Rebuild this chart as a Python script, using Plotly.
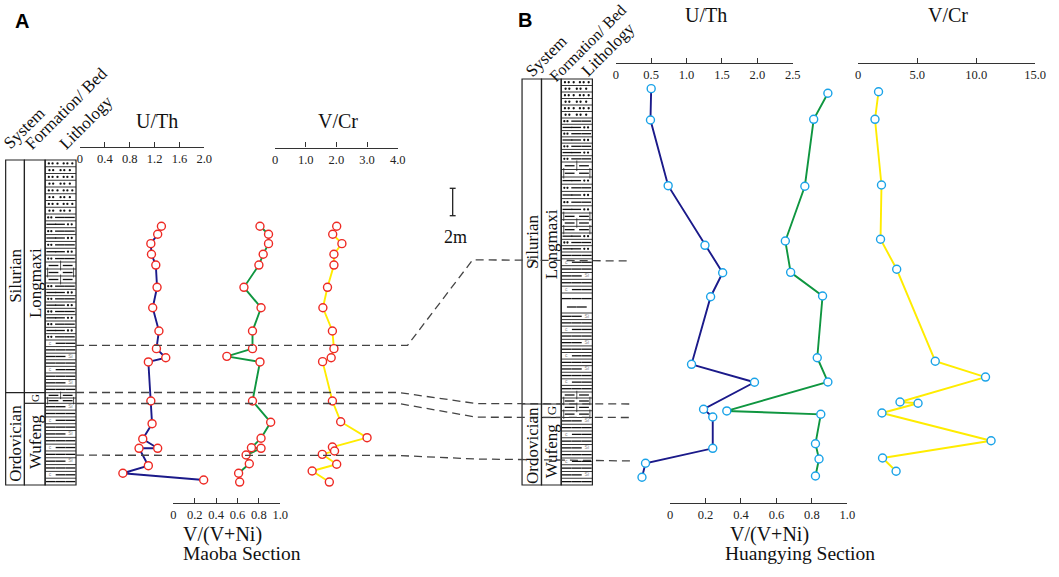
import plotly.graph_objects as go

W, H = 1059, 577

# ---------------- data (heights in m above the base of each column) ----------------
maoba_uth_h = [18.48, 17.91, 17.24, 16.48, 15.71, 14.12, 12.66, 11.00, 9.74, 9.09, 8.79, 6.00, 4.38, 3.29, 2.62, 2.62, 1.38, 0.84, 0.36]
maoba_uth = [1.31, 1.25, 1.14, 1.15, 1.22, 1.24, 1.17, 1.27, 1.23, 1.38, 1.10, 1.14, 1.16, 1.01, 1.25, 0.95, 1.10, 0.69, 1.99]

maoba_vvni_h = [18.48, 17.91, 17.24, 16.48, 15.71, 14.12, 12.66, 11.00, 9.74, 9.19, 8.79, 6.00, 4.48, 3.34, 2.66, 2.62, 2.14, 1.52, 0.84, 0.21]
maoba_vvni = [0.81, 0.89, 0.89, 0.84, 0.80, 0.66, 0.82, 0.74, 0.74, 0.50, 0.81, 0.74, 0.91, 0.82, 0.73, 0.82, 0.68, 0.71, 0.61, 0.62]

maoba_vcr_h = [18.48, 17.91, 17.24, 16.48, 15.71, 14.12, 12.66, 11.00, 9.74, 9.09, 8.81, 6.00, 4.52, 3.38, 2.71, 2.43, 2.19, 1.48, 1.00, 0.21]
maoba_vcr = [2.01, 1.88, 2.18, 1.92, 1.92, 1.71, 1.56, 1.87, 1.92, 1.83, 1.55, 1.87, 2.14, 3.00, 1.87, 1.94, 1.54, 2.01, 1.21, 1.77]

huang_uth_h = [28.31, 26.07, 21.38, 17.12, 15.16, 13.45, 8.62, 7.34, 5.41, 4.86, 2.62, 1.55, 0.55]
huang_uth = [0.50, 0.49, 0.74, 1.26, 1.51, 1.34, 1.07, 1.96, 1.24, 1.37, 1.37, 0.42, 0.37]

huang_vvni_h = [27.98, 26.12, 21.34, 17.43, 15.19, 13.50, 9.09, 7.36, 5.29, 5.05, 2.95, 1.86, 0.64]
huang_vvni = [0.89, 0.81, 0.76, 0.65, 0.68, 0.86, 0.83, 0.89, 0.32, 0.85, 0.82, 0.84, 0.82]

huang_vcr_h = [28.09, 26.12, 21.43, 17.55, 15.41, 8.84, 7.71, 5.93, 5.84, 5.14, 3.16, 1.93, 0.98]
huang_vcr = [1.72, 1.42, 1.97, 1.89, 3.26, 6.53, 10.79, 3.54, 5.07, 2.01, 11.26, 2.06, 3.21]

uth_ticks_a = [0, 0.4, 0.8, 1.2, 1.6, 2.0]
uth_labels_a = ["0", "0.4", "0.8", "1.2", "1.6", "2.0"]
vcr_ticks_a = [0, 1, 2, 3, 4]
vcr_labels_a = ["0", "1.0", "2.0", "3.0", "4.0"]
vvni_ticks = [0, 0.2, 0.4, 0.6, 0.8, 1.0]
vvni_labels = ["0", "0.2", "0.4", "0.6", "0.8", "1.0"]
uth_ticks_b = [0, 0.5, 1.0, 1.5, 2.0, 2.5]
uth_labels_b = ["0", "0.5", "1.0", "1.5", "2.0", "2.5"]
vcr_ticks_b = [0, 5, 10, 15]
vcr_labels_b = ["0", "5.0", "10.0", "15.0"]

# ---------------- layout helpers ----------------
SERIF = "Liberation Serif"
PX_PER_M = 14.0
BASE_PX = 485.0
NAVY, GREEN, YELLOW = "#1b1a8a", "#0f9640", "#ffec00"
RED, CYAN = "#ee2a24", "#1aa3e8"

fig = go.Figure()
shapes = []
annotations = []


def hline(x0, x1, y, width=1.0, color="#222", dash=None):
    shapes.append(dict(type="line", xref="x", yref="y", x0=x0, x1=x1, y0=y, y1=y,
                       line=dict(color=color, width=width, dash=dash)))


def path_line(pts, width=1.3, color="#444", dash="8px,5px"):
    d = "M " + " L ".join(f"{x},{y}" for x, y in pts)
    shapes.append(dict(type="path", xref="x", yref="y", path=d,
                       line=dict(color=color, width=width, dash=dash)))


def rect(x0, x1, y0, y1, width=1.2):
    shapes.append(dict(type="rect", xref="x", yref="y", x0=x0, x1=x1, y0=y0, y1=y1,
                       line=dict(color="#222", width=width), fillcolor="rgba(0,0,0,0)"))


def text(x, y, s, size=16, angle=0, bold=False, family=SERIF, color="#111"):
    annotations.append(dict(x=x, y=y, xref="x", yref="y", text=(f"<b>{s}</b>" if bold else s),
                            showarrow=False, textangle=angle, xanchor="center", yanchor="middle",
                            font=dict(family=family, size=size, color=color)))


dots_x, dots_y = [], []
dash_x, dash_y = [], []
vert_x, vert_y, vert_s = [], [], []
lbl_x, lbl_y, lbl_t = [], [], []


def lith_column(x0, x1, intervals, bottom, row_h=6.8):
    w = x1 - x0
    k = 0
    for top, bot, kind in intervals:
        n = 1 if kind == "tall" else max(1, round((bot - top) / row_h))
        h = (bot - top) / n
        for i in range(n):
            yt = top + i * h
            yc = yt + h / 2
            yb = yt + h
            if yb < bottom - 0.5:
                hline(x0, x1, yb, width=0.9)
            alt = k % 2
            if kind == "dot":
                xs = [0.14, 0.26, 0.5, 0.62, 0.8] if alt else [0.12, 0.24, 0.4, 0.6, 0.72, 0.88]
                for f in xs:
                    dots_x.append(x0 + f * w); dots_y.append(yc)
            elif kind == "dashdot":
                if alt:
                    for f in [0.2, 0.48]:
                        dash_x.append(x0 + f * w); dash_y.append(yc)
                    for f in [0.74, 0.86]:
                        dots_x.append(x0 + f * w); dots_y.append(yc)
                else:
                    for f in [0.1, 0.2]:
                        dots_x.append(x0 + f * w); dots_y.append(yc)
                    for f in [0.48, 0.8]:
                        dash_x.append(x0 + f * w); dash_y.append(yc)
            elif kind == "dash":
                m = k % 4
                fs = [0.18, 0.5, 0.82]
                if m == 1:
                    lbl_x.append(x0 + 0.82 * w); lbl_y.append(yc); lbl_t.append("Si")
                    fs = [0.18, 0.5]
                elif m == 3:
                    lbl_x.append(x0 + 0.16 * w); lbl_y.append(yc); lbl_t.append("c")
                    fs = [0.5, 0.82]
                for f in fs:
                    dash_x.append(x0 + f * w); dash_y.append(yc)
            elif kind == "tall":
                for f in [0.18, 0.5, 0.82]:
                    dash_x.append(x0 + f * w); dash_y.append(yt + h * 0.28)
                for f in [0.34, 0.66]:
                    dash_x.append(x0 + f * w); dash_y.append(yt + h * 0.7)
            elif kind == "brick":
                for f in [0.27, 0.73]:
                    dash_x.append(x0 + f * w); dash_y.append(yc)
                vs = [0.5] if alt else [0.08, 0.92]
                for f in vs:
                    vert_x.append(x0 + f * w); vert_y.append(yc); vert_s.append(h)
            k += 1


# ---------------- stratigraphic columns ----------------
A = dict(s0=2.7, s1=21.7, f1=42.7, l1=74.0, top=160.0, bot=485.0, ord=392.7, g=403.3)
B = dict(s0=526.0, s1=545.7, f1=565.7, l1=597.3, top=79.0, bot=485.0, ord=404.0, g=417.5)

for C in (A, B):
    rect(C["s0"], C["s1"], C["top"], C["bot"])
    rect(C["s1"], C["f1"], C["top"], C["bot"])
    rect(C["f1"], C["l1"], C["top"], C["bot"])
    hline(C["s0"], C["f1"], C["ord"], width=1.2)
    hline(C["s1"], C["f1"], C["g"], width=1.2)

lith_column(A["f1"], A["l1"], [(160, 214, "dot"), (214, 262, "dashdot"), (262, 283, "brick"),
                                (283, 340, "dashdot"), (340, 392.7, "dash"), (392.7, 403.3, "brick"),
                                (403.3, 485, "dash")], A["bot"], row_h=6.7)
lith_column(B["f1"], B["l1"], [(79, 118, "dot"), (118, 162, "dashdot"), (162, 177, "brick"),
                                (177, 213, "dashdot"), (213, 233, "brick"), (233, 252, "dashdot"),
                                (252, 293, "dash"), (293, 313, "tall"), (313, 392, "dash"),
                                (392, 404, "brick"), (404, 417.5, "brick"), (417.5, 485, "dash")], B["bot"], row_h=6.7)

# column texts
text(12, 276, "Silurian", 17, -90)
text(32.5, 283, "Longmaxi", 17, -90)
text(12, 443, "Ordovician", 17, -90)
text(32.5, 442, "Wufeng", 17, -90)
text(32.5, 398, "G", 11, -90)
text(536, 242, "Silurian", 17, -90)
text(555.7, 244, "Longmaxi", 17, -90)
text(536, 445, "Ordovician", 17, -90)
text(555.7, 451, "Wufeng", 17, -90)
text(555.7, 411, "G", 13, -90)

# rotated headers
text(21, 128, "System", 17, -45)
text(64, 108, "Formation/ Bed", 17, -45)
text(84, 122, "Lithology", 17, -45)
text(550, 56, "System", 17, -45)
text(592, 43, "Formation/ Bed", 16, -45)
text(613, 49, "Lithology", 17, -45)

# panel labels
text(19, 21, "A", 20, bold=True, family="Liberation Sans", color="#000")
text(529, 20, "B", 20, bold=True, family="Liberation Sans", color="#000")

# axis titles / section names
text(156.5, 121, "U/Th", 20)
text(339, 121, "V/Cr", 20)
text(222, 534, "V/(V+Ni)", 20)
text(242.5, 553, "Maoba Section", 19.5)
text(712, 15, "U/Th", 20)
text(958, 15, "V/Cr", 20)
text(777, 534, "V/(V+Ni)", 20)
text(807.5, 553, "Huangying Section", 19.5)

# scale bar
shapes.append(dict(type="line", xref="x", yref="y", x0=455.7, x1=455.7, y0=188.3, y1=215.7,
                   line=dict(color="#222", width=1.3)))
hline(452.7, 458.7, 188.3, width=1.3)
hline(452.7, 458.7, 215.7, width=1.3)
text(459, 237, "2m", 18)

# correlation dashed lines
path_line([(74, 345.3), (410, 345.3), (476, 259.8), (637, 261.0)])
path_line([(74, 392.5), (401, 392.5), (480, 403.6), (638, 404.0)])
path_line([(74, 403.5), (401, 403.5), (480, 417.2), (638, 417.5)])
path_line([(74, 455.2), (400, 455.5), (480, 459.0), (640, 461.0)])

# lithology pattern traces on pixel base axes
fig.add_trace(go.Scatter(x=dots_x, y=dots_y, mode="markers", xaxis="x", yaxis="y", hoverinfo="skip",
                         marker=dict(symbol="circle", size=2.3, color="#111", line=dict(width=0))))
fig.add_trace(go.Scatter(x=dash_x, y=dash_y, mode="markers", xaxis="x", yaxis="y", hoverinfo="skip",
                         marker=dict(symbol="line-ew", size=7, color="#111", line=dict(width=1.3, color="#111"))))
fig.add_trace(go.Scatter(x=vert_x, y=vert_y, mode="markers", xaxis="x", yaxis="y", hoverinfo="skip",
                         marker=dict(symbol="line-ns", size=vert_s, color="#111", line=dict(width=1.0, color="#111"))))
fig.add_trace(go.Scatter(x=lbl_x, y=lbl_y, mode="text", text=lbl_t, xaxis="x", yaxis="y", hoverinfo="skip",
                         textfont=dict(family="Liberation Sans", size=5, color="#888")))

# ---------------- data traces ----------------
def series(x, h, xa, lcolor, mcolor):
    fig.add_trace(go.Scatter(x=x, y=h, xaxis=xa, yaxis="y2", mode="lines+markers", cliponaxis=False,
                             line=dict(color=lcolor, width=1.9),
                             marker=dict(symbol="circle", size=8, color="white",
                                         line=dict(color=mcolor, width=1.4))))


series(maoba_uth, maoba_uth_h, "x2", NAVY, RED)
series(maoba_vvni, maoba_vvni_h, "x3", GREEN, RED)
series(maoba_vcr, maoba_vcr_h, "x4", YELLOW, RED)
series(huang_uth, huang_uth_h, "x5", NAVY, CYAN)
series(huang_vvni, huang_vvni_h, "x6", GREEN, CYAN)
series(huang_vcr, huang_vcr_h, "x7", YELLOW, CYAN)


def px_axis(left, right, rng, ticks, labels, line_px):
    return dict(domain=[left / W, right / W], range=rng, anchor="free", position=1 - line_px / H,
                side="bottom", showline=True, linecolor="#333", linewidth=1.3, mirror=False,
                ticks="inside", ticklen=5, tickwidth=1.3, tickcolor="#333",
                tickvals=ticks, ticktext=labels, showgrid=False, zeroline=False, fixedrange=True,
                tickfont=dict(family=SERIF, size=12.5, color="#222"))


fig.update_layout(
    width=W, height=H, margin=dict(l=0, r=0, t=0, b=0),
    paper_bgcolor="white", plot_bgcolor="rgba(0,0,0,0)", showlegend=False,
    xaxis=dict(domain=[0, 1], range=[0, W], visible=False, fixedrange=True),
    yaxis=dict(domain=[0, 1], range=[H, 0], visible=False, fixedrange=True),
    yaxis2=dict(domain=[0, 1], range=[-(H - BASE_PX) / PX_PER_M, BASE_PX / PX_PER_M],
                anchor="free", position=0, visible=False, fixedrange=True),
    xaxis2=px_axis(78, 204, [0, 2.0], uth_ticks_a, uth_labels_a, 147),
    xaxis3=px_axis(172.7, 281, [0, 1.0], vvni_ticks, vvni_labels, 503.3),
    xaxis4=px_axis(275.7, 400, [0, 4.0], vcr_ticks_a, vcr_labels_a, 147.5),
    xaxis5=px_axis(621, 800.3, [0, 2.5], uth_ticks_b, uth_labels_b, 62.7),
    xaxis6=px_axis(676, 855.7, [0, 1.0], vvni_ticks, vvni_labels, 503.3),
    xaxis7=px_axis(866.7, 1046, [0, 15], vcr_ticks_b, vcr_labels_b, 62.7),
    shapes=shapes, annotations=annotations,
)

fig.write_html("out.html", config={"displayModeBar": False},
               post_script="document.body.style.margin='0';")
